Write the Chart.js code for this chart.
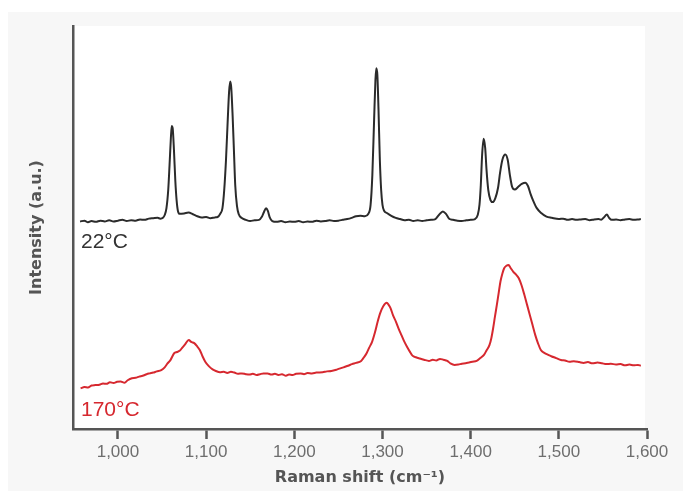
<!DOCTYPE html>
<html>
<head>
<meta charset="utf-8">
<title>Raman spectra 22°C / 170°C</title>
<script src="https://cdn.jsdelivr.net/npm/chart.js@4.4.1/dist/chart.umd.min.js"></script>
<style>
html,body{margin:0;padding:0;background:#fff;}
#wrap{position:relative;width:683px;height:491px;}
</style>
</head>
<body>
<div id="wrap"><canvas id="chart"></canvas></div>
<script>

/* ================= DATA ================= */

// 22°C spectrum (black)
let shift22 = [957,962,966,970,975,980,985,990,995,1000,1005,1010,1015,1020,1025,1030,1035,1040,1045,1048,1051,
1053,1055,1057,1058.5,1060,1061,1062,1063.5,1065,1066.5,1068,1070,1075,1080,1085,1090,1095,1100,1105,1110,
1113,1116,1118.5,1120.5,1122.5,1124.5,1126,1127.3,1128.5,1130,1131.5,1133,1135,1137,1140,1145,1150,1155,
1160,1163,1165.5,1168,1170,1172,1175,1180,1185,1190,1195,1200,1205,1210,1215,1220,1225,1230,1235,1240,1245,
1250,1255,1260,1265,1270,1275,1280,1284,1286.5,1288.5,1290.5,1292,1293,1294.2,1295.5,1297,1298.5,1300,1302,
1305,1310,1315,1320,1325,1330,1335,1340,1345,1350,1355,1360,1364,1368.5,1372,1376,1380,1385,1390,1395,1400,
1405,1408,1410,1411.5,1413,1414.7,1416.5,1418,1420,1422.5,1425,1428,1431,1433.5,1436,1439.3,1442,1444.5,1447,
1450,1454,1458,1462,1465,1468,1471,1475,1480,1486,1492,1500,1505,1510,1515,1520,1525,1530,1535,1540,1545,
1548,1551,1554.5,1557,1560,1565,1570,1575,1580,1585,1590,1593];
let int22 = [51.5,51.7,51.3,51.6,51.4,51.7,51.5,51.8,51.5,51.7,51.9,51.6,51.8,51.7,52.0,51.9,52.2,52.3,52.4,52.2,52.4,
53.1,54.8,59.3,65.5,72.2,75.2,74.7,69.2,61.8,56.8,54.1,53.4,53.5,53.7,53.3,52.8,52.5,52.6,52.3,52.5,
52.6,53.4,54.8,59.3,66.7,76.7,83.6,86.2,84.6,77.9,69.2,60.5,55.3,53.3,52.4,51.9,51.6,51.8,
51.9,52.6,53.8,54.8,54.1,52.6,51.6,51.4,51.6,51.3,51.5,51.4,51.6,51.3,51.5,51.4,51.7,51.5,51.6,51.8,51.6,
51.7,51.9,52.1,52.4,52.8,52.9,52.8,53.4,55.6,63.0,76.7,86.6,89.5,87.8,79.2,66.8,59.3,55.6,54.1,
53.6,52.9,52.4,52.1,51.8,51.9,51.6,51.8,51.6,51.8,51.9,52.1,53.1,54.0,53.4,52.1,51.9,51.7,51.6,51.8,51.9,
52.1,53.1,55.6,60.5,68.0,72.0,69.7,64.3,59.3,56.8,56.3,57.3,59.8,63.8,66.8,68.1,66.8,63.0,60.1,
59.4,60.1,60.8,61.1,60.3,58.3,56.6,54.8,53.6,52.7,52.4,52.1,52.2,51.9,52.1,51.9,52.0,52.1,51.8,52.0,52.1,
51.9,52.5,53.2,52.4,51.9,52.0,51.8,52.0,52.1,51.9,52.0,52.1];

// 170°C spectrum (red)
let shift170 = [957.6,962,966,970,974.3,979,983,987,990.9,995,999,1003,1007.5,1011,1015.8,1020,1024,1028,1032.5,1036,
1040,1044,1049.1,1053,1056,1059.5,1063.7,1067,1069.9,1073,1076.1,1080.3,1083,1086.5,1089.5,1092.8,1096,1099,1103,
1107.3,1111,1115.7,1120,1124,1128.1,1132,1136,1140.6,1145,1149,1153,1157.3,1161,1165,1169.7,1174,1178,1182,1186,
1190.5,1194,1198,1202,1207.2,1211,1215,1220,1225,1232.1,1237,1242,1248.8,1253,1257,1261,1265.4,1270,1275.8,1279,
1282,1285,1288.3,1291.5,1294.5,1297.5,1300.7,1304.9,1307,1309.1,1312,1315.3,1318.5,1321.5,1324.5,1327.8,1331,1334,
1338,1342.3,1347,1352.7,1357,1361,1365.2,1369,1373.5,1377,1381.8,1386,1390,1394.3,1398,1402,1406.8,1411,1415.1,
1418,1421.3,1423.5,1425.5,1427.5,1429.7,1431.8,1433.8,1436,1438,1440.5,1443,1445.5,1448.4,1451.5,1454.6,1457.8,
1460.9,1464,1467.1,1470.2,1473.3,1476.5,1479.6,1483.5,1487.9,1492,1497,1502.4,1507,1512,1517,1523.2,1528,1533,
1538,1544,1549,1554,1559,1564.8,1570,1575,1580,1585,1589.8,1593];
let int170 = [10.1,10.4,10.3,10.8,10.9,11.0,11.3,11.2,11.6,11.4,11.7,11.8,11.5,12.1,12.6,12.7,13.0,13.2,13.6,13.8,
14.0,14.3,14.6,15.3,16.2,17.1,18.8,19.1,19.4,20.2,21.0,22.1,21.6,21.3,20.6,19.6,18.0,16.7,15.6,
14.8,14.4,14.1,14.2,13.9,14.2,14.0,13.7,13.8,13.6,13.5,13.7,13.4,13.6,13.8,13.8,13.5,13.7,13.4,13.6,
13.2,13.5,13.4,13.7,13.8,13.6,13.9,13.8,14.0,14.1,14.3,14.4,14.8,15.1,15.4,15.7,16.1,16.4,16.9,17.8,
18.8,20.2,21.7,24.0,26.6,28.8,30.4,31.3,30.8,30.0,28.2,26.6,24.8,23.3,21.8,20.4,19.2,18.2,
17.8,17.5,17.2,16.9,17.2,17.0,17.4,17.2,16.9,16.3,15.9,16.0,16.2,16.3,16.5,16.7,16.9,17.6,18.4,
19.5,20.8,22.6,25.0,27.8,30.8,33.8,36.6,38.6,39.9,40.5,40.7,39.9,39.0,38.3,37.4,35.6,
33.3,30.8,28.3,25.8,23.3,21.2,19.6,18.9,18.4,18.0,17.6,17.1,17.0,16.7,16.8,16.6,16.4,16.6,
16.3,16.5,16.3,16.1,16.2,16.0,16.1,15.8,16.0,15.8,15.9,15.7];

let xTicks = [1000,1100,1200,1300,1400,1500,1600];
let seriesLabels = ["22°C","170°C"];

/* ================= STYLE ================= */

const BLACK = "#2b2b2b";
const RED = "#d6282f";
const AXIS = "#555555";
const SANS = "'Liberation Sans', Arial, Helvetica, sans-serif";
const BOLD = "'DejaVu Sans', 'Liberation Sans', Arial, sans-serif";

function points(xs,ys){
return xs.map((x,i)=>({x:x,y:ys[i]}));
}

/* ================= BACKGROUND + LABELS ================= */

const panelPlugin = {
id:"panel",
beforeDraw(chart){
let ctx = chart.ctx;
let a = chart.chartArea;
ctx.save();
ctx.fillStyle = "#ffffff";
ctx.fillRect(0,0,chart.width,chart.height);
ctx.fillStyle = "#f7f7f7";
ctx.fillRect(8,12,chart.width-8,chart.height-12);
ctx.fillStyle = "#ffffff";
ctx.fillRect(a.left,a.top,a.right-a.left-2,a.bottom-a.top);
ctx.restore();
},
afterDatasetsDraw(chart){
let ctx = chart.ctx;
let a = chart.chartArea;
ctx.save();
ctx.font = "21px " + SANS;
ctx.textBaseline = "alphabetic";
ctx.textAlign = "left";
ctx.fillStyle = "#333333";
ctx.fillText(seriesLabels[0], a.left+8, 248);
ctx.fillStyle = RED;
ctx.fillText(seriesLabels[1], a.left+8, 416);
ctx.restore();
}
};

/* ================= CHART ================= */

new Chart(document.getElementById("chart"),{

type:"line",

data:{
datasets:[
{
label:seriesLabels[0],
data:points(shift22,int22),
borderColor:BLACK,
borderWidth:2,
pointRadius:0,
cubicInterpolationMode:"monotone",
fill:false
},
{
label:seriesLabels[1],
data:points(shift170,int170),
borderColor:RED,
borderWidth:2,
pointRadius:0,
cubicInterpolationMode:"monotone",
fill:false
}
]
},

options:{
responsive:true,
maintainAspectRatio:false,
animation:false,
events:[],
layout:{padding:{left:8,top:26,right:36,bottom:0}},
plugins:{
legend:{display:false},
tooltip:{enabled:false}
},
scales:{
x:{
type:"linear",
min:949,
max:1600,
afterBuildTicks(scale){
scale.ticks = xTicks.map(v=>({value:v}));
},
afterFit(scale){
scale.height = 62;
},
ticks:{
color:"#6e6e6e",
padding:3,
maxRotation:0,
font:{family:SANS,size:17},
callback:(v)=>Number(v).toLocaleString("en-US")
},
grid:{
drawOnChartArea:false,
drawTicks:true,
tickLength:10,
tickWidth:2.5,
tickColor:AXIS
},
border:{display:true,color:AXIS,width:2.5},
title:{
display:true,
text:"Raman shift (cm⁻¹)",
color:AXIS,
font:{family:BOLD,size:16,weight:"bold"},
padding:{top:4,bottom:4}
}
},
y:{
min:0,
max:100,
afterFit(scale){
scale.width = 65;
},
ticks:{display:false},
grid:{drawOnChartArea:false,drawTicks:false},
border:{display:true,color:AXIS,width:2.5},
title:{
display:true,
text:"Intensity (a.u.)",
color:AXIS,
font:{family:BOLD,size:16,weight:"bold"},
padding:{top:19,bottom:0}
}
}
}
},

plugins:[panelPlugin]

});

</script>
</body>
</html>
